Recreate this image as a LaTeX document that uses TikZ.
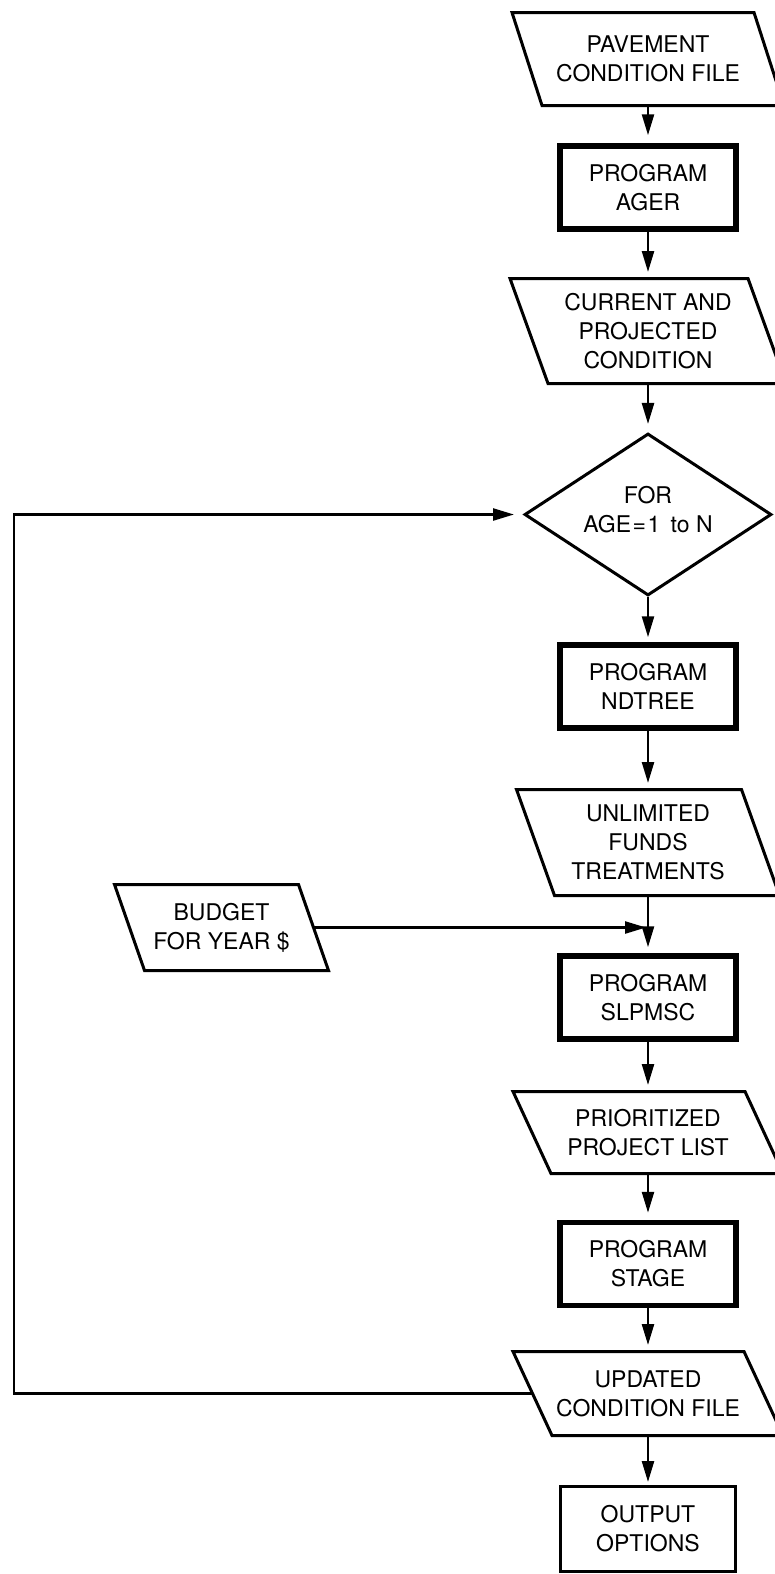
\documentclass[tikz,border=0pt]{standalone}
\usepackage{fontspec}
\setmainfont{TeX Gyre Heros}
\usetikzlibrary{shapes.geometric,arrows.meta,calc}
\newcommand\paraoutline[2]{%
  \draw[paraline] ([xshift=-#2]#1.north west) -- ([xshift=-#2]#1.north east)
    -- ([xshift=#2]#1.south east) -- ([xshift=#2]#1.south west) -- cycle;}
\begin{document}
\begin{tikzpicture}[x=1pt,y=-1pt,
  every node/.style={font=\fontsize{23}{29}\selectfont, align=center, inner sep=0pt},
  progbox/.style={draw, line width=5.5pt, minimum width=176pt, minimum height=83pt},
  outbox/.style={draw, line width=3pt, minimum width=175pt, minimum height=85pt},
  datanode/.style={minimum width=#1, outer sep=0pt},
  paraline/.style={line width=3pt, line join=miter},
  decision/.style={diamond, draw, line width=3pt, aspect=1.515,
    minimum width=247pt, minimum height=162pt},
  conn/.style={line width=2.5pt, line join=miter, -{Triangle[length=21pt,width=12pt]}},
]
\clip (0,0) rectangle (775,1574);

\node[datanode=242pt, minimum height=93pt] (pave) at (648,59) {PAVEMENT\\CONDITION FILE};
\paraoutline{pave}{15pt}
\node[progbox] (ager) at (648,187.5) {PROGRAM\\AGER};
\node[datanode=238pt, minimum height=105pt] (current) at (648,331) {CURRENT AND\\PROJECTED\\CONDITION};
\paraoutline{current}{19pt}
\node[decision] (for) at (648,514.5) {};
\node (forlabel) at (648,510) {FOR\\AGE\kern1.5pt=\kern1.5pt1\hspace{0.45em}to N};
\node[progbox] (ndtree) at (648,686.5) {PROGRAM\\NDTREE};
\node[datanode=225pt, minimum height=106pt] (unlim) at (648,842.5) {UNLIMITED\\FUNDS\\TREATMENTS};
\paraoutline{unlim}{19pt}
\node[progbox] (slpmsc) at (648,997.5) {PROGRAM\\SLPMSC};
\node[datanode=232pt, minimum height=82pt] (prio) at (648,1132.5) {PRIORITIZED\\PROJECT LIST};
\paraoutline{prio}{19pt}
\node[progbox] (stage) at (648,1264) {PROGRAM\\STAGE};
\node[datanode=231pt, minimum height=84pt] (upd) at (648,1393.5) {UPDATED\\CONDITION FILE};
\paraoutline{upd}{19.5pt}
\node[outbox] (out) at (648,1529) {OUTPUT\\OPTIONS};
\node[datanode=184pt, minimum height=86pt] (budget) at (221.5,927.5) {BUDGET\\FOR YEAR \$};
\paraoutline{budget}{15pt}

\coordinate (loopbottom) at (14,1393.5);
\coordinate (looptop) at (14,514.5);

\draw[conn, shorten >=8pt] (pave) -- (ager);
\draw[conn, shorten >=6.5pt] (ager) -- (current);
\draw[conn, shorten >=8pt] (current) -- (for);
\draw[conn, shorten >=5pt] (for) -- (ndtree);
\draw[conn, shorten >=6.5pt] (ndtree) -- (unlim);
\draw[conn, shorten >=6pt] (unlim) -- (slpmsc);
\draw[conn, shorten >=6.5pt] (slpmsc) -- (prio);
\draw[conn, shorten >=7pt] (prio) -- (stage);
\draw[conn, shorten >=6.5pt] (stage) -- (upd);
\draw[conn, shorten >=3pt] (upd) -- (out);
\draw[conn, shorten >=2pt] (budget.east) -- (budget.east -| unlim.south);
\draw[conn, shorten >=9pt] (upd.west) -- (loopbottom) -- (looptop) -- (for.west);
\end{tikzpicture}
\end{document}
